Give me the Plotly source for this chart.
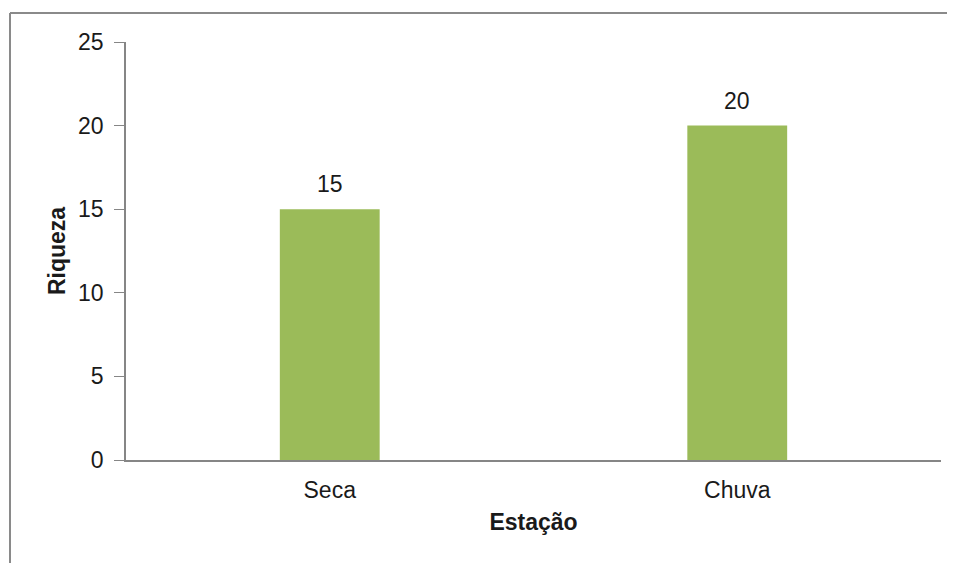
import plotly.graph_objects as go

categories = ["Seca", "Chuva"]
riqueza = [15, 20]
y_ticks = [0, 5, 10, 15, 20, 25]

font_fam = "Liberation Sans, Arial, sans-serif"
txt = "#1a1a1a"
axis_col = "#868686"
fs = 23

fig = go.Figure()
fig.add_trace(go.Bar(x=categories, y=riqueza, marker_color="#9BBB59",
                     marker_line_width=0, width=0.245))

for c, v in zip(categories, riqueza):
    fig.add_annotation(x=c, y=v, text=str(v), showarrow=False, yanchor="bottom",
                       yshift=10, font=dict(family=font_fam, size=fs, color=txt))

# page body has an 8px margin, so the figure is sized to fit the 955x563 window
fig.update_layout(
    width=947, height=555,
    margin=dict(l=118, r=14, t=34, b=103),
    paper_bgcolor="white", plot_bgcolor="white",
    showlegend=False,
    font=dict(family=font_fam, size=fs, color=txt),
)
fig.update_yaxes(range=[0, 25], tickvals=y_ticks, showgrid=False, zeroline=False,
                 showline=True, linecolor=axis_col, linewidth=1.5,
                 ticks="outside", ticklen=10, tickcolor=axis_col, tickwidth=1,
                 ticklabelstandoff=6,
                 title=dict(text="<b>Riqueza</b>", standoff=6,
                            font=dict(family=font_fam, size=fs, color=txt)))
fig.update_xaxes(showgrid=False, zeroline=False, showline=True, linecolor=axis_col,
                 linewidth=1.5, ticks="", ticklabelstandoff=9,
                 title=dict(text="<b>Estação</b>", standoff=12,
                            font=dict(family=font_fam, size=fs, color=txt)))

# outer chart border (top and left edges visible)
fig.add_shape(type="line", xref="paper", yref="paper",
              x0=-116/815, x1=1 + 14/815, y0=1 + 29/418, y1=1 + 29/418,
              line=dict(color="#8a8a8a", width=2))
fig.add_shape(type="line", xref="paper", yref="paper",
              x0=-116/815, x1=-116/815, y0=1 + 29/418, y1=-103/418,
              line=dict(color="#8a8a8a", width=2))

fig.write_html("out.html")
